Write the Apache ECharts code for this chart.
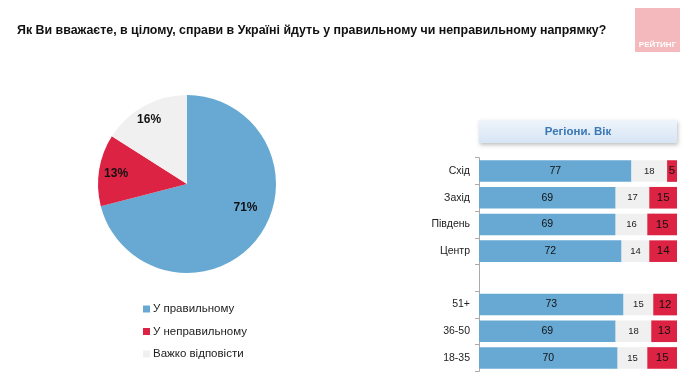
<!DOCTYPE html>
<html><head><meta charset="utf-8">
<script src="https://cdn.jsdelivr.net/npm/echarts@6/dist/echarts.min.js"></script>
<style>html,body{margin:0;padding:0;background:#fff}#c{width:690px;height:381px}</style>
</head><body><div id="c"></div>
<script>
const titleText = 'Як Ви вважаєте, в цілому, справи в Україні йдуть у правильному чи неправильному напрямку?';
const pieNames = ['У правильному', 'У неправильному', 'Важко відповісти'];
const pieValues = [71, 13, 16];
const categories = ['Схід', 'Захід', 'Південь', 'Центр', '', '51+', '36-50', '18-35'];
const rightVals = [77, 69, 69, 72, null, 73, 69, 70];
const hardVals = [18, 17, 16, 14, null, 15, 18, 15];
const wrongVals = [5, 15, 15, 14, null, 12, 13, 15];
const panelTitle = 'Регіони. Вік';
const logoText = 'РЕЙТИНГ';

const FONT = '"Liberation Sans", Arial, sans-serif';
const colors = ['#68a9d4', '#dc2343', '#f0f0f0'];
const pieLabelOffsets = [[21, -5], [-24, -3], [-15, -23]];

const chart = echarts.init(document.getElementById('c'));
chart.setOption({
  backgroundColor: '#fff',
  textStyle: { fontFamily: FONT },
  animation: false,
  title: {
    text: titleText, left: 12, top: 20,
    textStyle: { fontFamily: FONT, fontSize: 12.4, fontWeight: 'bold', color: '#111' }
  },
  legend: {
    orient: 'vertical', left: 138, top: 298, itemGap: 10.5,
    itemWidth: 7, itemHeight: 7, icon: 'rect',
    data: pieNames,
    textStyle: { fontFamily: FONT, fontSize: 11.5, color: '#222', padding: [0, 0, 0, -2] }
  },
  graphic: [
    { type: 'rect', shape: { x: 635, y: 8, width: 45, height: 44 }, style: { fill: '#f3b9bd' } },
    { type: 'text', style: { x: 657.5, y: 45, text: logoText, fill: '#fff', font: 'bold 8px ' + FONT, align: 'center', verticalAlign: 'middle' } },
    { type: 'rect', shape: { x: 479, y: 120, width: 198, height: 23 },
      style: { fill: { type: 'linear', x: 0, y: 0, x2: 0, y2: 1, colorStops: [{ offset: 0, color: '#eef4fb' }, { offset: 1, color: '#d7e5f4' }] },
        shadowBlur: 4, shadowColor: 'rgba(0,0,0,0.25)', shadowOffsetX: 1, shadowOffsetY: 2 } },
    { type: 'text', style: { x: 578, y: 131.5, text: panelTitle, fill: '#3a78b6', font: 'bold 11.5px ' + FONT, align: 'center', verticalAlign: 'middle' } }
  ],
  grid: { left: 479, width: 198, top: 157.7, height: 213.6 },
  xAxis: { type: 'value', min: 0, max: 100, show: false },
  yAxis: {
    type: 'category', data: categories, inverse: true,
    axisLine: { lineStyle: { color: '#aaa' } },
    axisTick: { show: true, length: 4, lineStyle: { color: '#aaa' } },
    axisLabel: { fontSize: 10.5, color: '#222', margin: 9, fontFamily: FONT }
  },
  series: [
    {
      type: 'pie', center: [187, 184], radius: 89, startAngle: 90, clockwise: true,
      legendHoverLink: false,
      data: pieNames.map((n, i) => ({ name: n, value: pieValues[i], itemStyle: { color: colors[i] },
        label: { offset: pieLabelOffsets[i] } })),
      label: { show: true, position: 'inside', formatter: '{c}%', fontSize: 12, fontWeight: 'bold', color: '#111', fontFamily: FONT },
      labelLine: { show: false }
    },
    {
      type: 'bar', name: pieNames[0], stack: 's', data: rightVals, barCategoryGap: '19%',
      itemStyle: { color: colors[0] },
      label: { show: true, position: 'inside', fontSize: 10.5, color: '#111', fontFamily: FONT }
    },
    {
      type: 'bar', name: pieNames[2], stack: 's', data: hardVals,
      itemStyle: { color: colors[2] },
      label: { show: true, position: 'inside', fontSize: 9.5, color: '#222', fontFamily: FONT }
    },
    {
      type: 'bar', name: pieNames[1], stack: 's', data: wrongVals,
      itemStyle: { color: colors[1] },
      label: { show: true, position: 'inside', fontSize: 11.5, color: '#111', fontFamily: FONT }
    }
  ]
});
</script></body></html>
